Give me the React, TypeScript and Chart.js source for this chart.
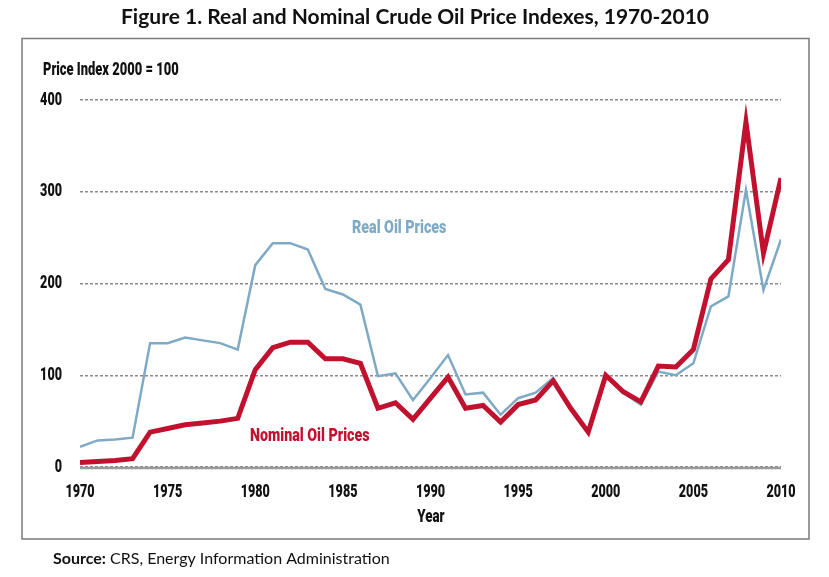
import React, { useEffect, useRef } from "react";
import { Chart, registerables } from "chart.js";

Chart.register(...registerables);

const years = [
  1970, 1971, 1972, 1973, 1974, 1975, 1976, 1977, 1978, 1979,
  1980, 1981, 1982, 1983, 1984, 1985, 1986, 1987, 1988, 1989,
  1990, 1991, 1992, 1993, 1994, 1995, 1996, 1997, 1998, 1999,
  2000, 2001, 2002, 2003, 2004, 2005, 2006, 2007, 2008, 2009, 2010,
];
const realPrices = [
  22, 29, 30, 32, 135, 135, 141, 138, 135, 128,
  220, 244, 244, 237, 194, 188, 177, 99, 102, 73,
  97, 122, 79, 81, 57, 75, 81, 97, 65, 39,
  100, 81, 68, 104, 100, 113, 175, 186, 302, 193, 248,
];
const nominalPrices = [
  5, 6, 7, 9, 38, 42, 46, 48, 50, 53,
  106, 130, 136, 136, 118, 118, 113, 64, 70, 52,
  75, 98, 64, 67, 49, 68, 73, 94, 64, 38,
  100, 82, 71, 110, 109, 128, 205, 226, 376, 233, 315,
];
const yTicks = [0, 100, 200, 300, 400];
const xTicks = [1970, 1975, 1980, 1985, 1990, 1995, 2000, 2005, 2010];

const TITLE = "Figure 1. Real and Nominal Crude Oil Price Indexes, 1970-2010";
const Y_LABEL = "Price Index 2000 = 100";
const X_LABEL = "Year";
const REAL_LABEL = "Real Oil Prices";
const NOMINAL_LABEL = "Nominal Oil Prices";

const NARROW = 'Roboto, "DejaVu Sans", sans-serif';
const HUMANIST = 'Lato, "Open Sans", sans-serif';
const REAL_COLOR = "#7eaac6";
const NOMINAL_COLOR = "#c0112f";

function narrowText(ctx: any, text: string, x: number, y: number, align: string, size: number, sx = 0.7) {
  ctx.save();
  ctx.font = `900 ${size}px ${NARROW}`;
  ctx.translate(x, y);
  ctx.scale(sx, 1);
  ctx.textAlign = align;
  ctx.textBaseline = "middle";
  ctx.fillText(text, 0, 0);
  ctx.restore();
}

export default function App() {
  const ref = useRef<HTMLCanvasElement | null>(null);

  useEffect(() => {
    if (!ref.current) return;
    const decor = {
      id: "decor",
      beforeDraw(chart: any) {
        const ctx = chart.ctx;
        ctx.save();
        ctx.fillStyle = "#ffffff";
        ctx.fillRect(0, 0, chart.width, chart.height);
        ctx.strokeStyle = "#7a7a7a";
        ctx.lineWidth = 1.5;
        ctx.strokeRect(22, 38.5, 787, 500.5);
        ctx.fillStyle = "#111";
        ctx.textBaseline = "middle";
        ctx.textAlign = "center";
        ctx.font = `bold 21px ${HUMANIST}`;
        ctx.fillText(TITLE, 415, 17);
        ctx.textAlign = "left";
        ctx.font = `bold 16px ${HUMANIST}`;
        const s = "Source:";
        ctx.fillText(s, 53, 559);
        const w = ctx.measureText(s).width;
        ctx.font = `16px ${HUMANIST}`;
        ctx.fillText(" CRS, Energy Information Administration", 53 + w, 559);
        ctx.restore();
        ctx.fillStyle = "#111";
        narrowText(ctx, Y_LABEL, 43, 70, "left", 19, 0.68);
        narrowText(ctx, X_LABEL, 431, 517, "center", 19);
        const xs = chart.scales.x;
        const ys = chart.scales.y;
        xTicks.forEach((v) => narrowText(ctx, String(v), xs.getPixelForValue(v), 492, "center", 18));
        yTicks.forEach((v) => narrowText(ctx, String(v), 62, ys.getPixelForValue(v), "right", 18));
      },
      beforeDatasetsDraw(chart: any) {
        const ctx = chart.ctx;
        const y0 = chart.scales.y.getPixelForValue(0);
        ctx.save();
        ctx.strokeStyle = "#999";
        ctx.lineWidth = 2.5;
        ctx.beginPath();
        ctx.moveTo(chart.chartArea.left, y0 + 1);
        ctx.lineTo(chart.chartArea.right, y0 + 1);
        ctx.stroke();
        ctx.restore();
      },
      afterDraw(chart: any) {
        const ctx = chart.ctx;
        ctx.fillStyle = REAL_COLOR;
        narrowText(ctx, REAL_LABEL, 352, 228, "left", 19, 0.75);
        ctx.fillStyle = NOMINAL_COLOR;
        narrowText(ctx, NOMINAL_LABEL, 250, 436, "left", 19, 0.75);
      },
    };

    const chart = new Chart(ref.current, {
      type: "line",
      data: {
        datasets: [
          {
            label: NOMINAL_LABEL,
            data: years.map((x, i) => ({ x, y: nominalPrices[i] })),
            borderColor: NOMINAL_COLOR,
            borderWidth: 5,
            pointRadius: 0,
            tension: 0,
            order: 0,
          },
          {
            label: REAL_LABEL,
            data: years.map((x, i) => ({ x, y: realPrices[i] })),
            borderColor: REAL_COLOR,
            borderWidth: 2.5,
            pointRadius: 0,
            tension: 0,
            order: 1,
          },
        ],
      },
      options: {
        responsive: false,
        animation: false,
        layout: { padding: { left: 0, right: 48, top: 100, bottom: 50 } },
        plugins: { legend: { display: false }, tooltip: { enabled: false } },
        scales: {
          x: {
            type: "linear",
            min: 1970,
            max: 2010,
            afterBuildTicks: (s: any) => {
              s.ticks = xTicks.map((v) => ({ value: v }));
            },
            afterFit: (s: any) => {
              s.height = 60;
            },
            ticks: { display: false },
            grid: { display: false },
            border: { display: false },
          },
          y: {
            min: 0,
            max: 400,
            afterBuildTicks: (s: any) => {
              s.ticks = yTicks.map((v) => ({ value: v }));
            },
            afterFit: (s: any) => {
              s.width = 80;
            },
            ticks: { display: false },
            grid: { color: "#8a8a8a", lineWidth: 1.5, drawTicks: false },
            border: { display: false, dash: [3, 2] },
          },
        },
      },
      plugins: [decor],
    });
    return () => chart.destroy();
  }, []);

  return (
    <div style={{ position: "fixed", left: 0, top: 0, width: 829, height: 577, background: "#fff" }}>
      <canvas ref={ref} width={829} height={577} style={{ width: 829, height: 577 }} />
    </div>
  );
}
